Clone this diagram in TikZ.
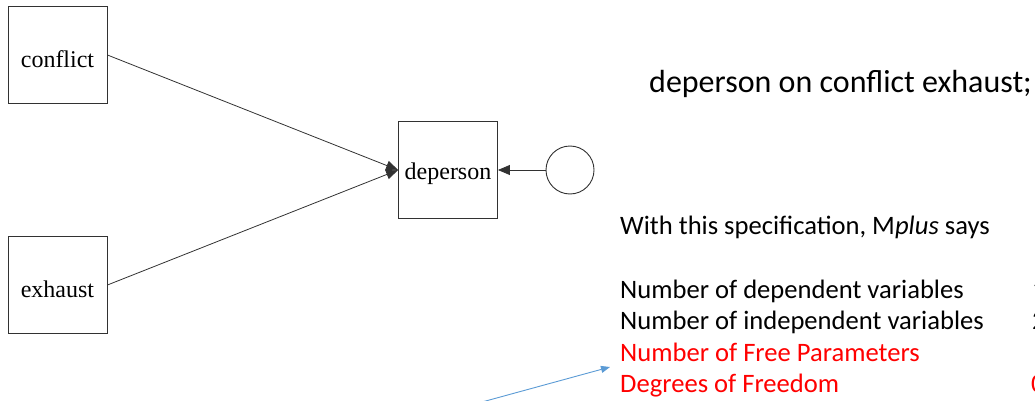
\documentclass[tikz,border=0pt]{standalone}
\usepackage{fontspec}
\setmainfont{Liberation Serif}
\newfontfamily\calib{Carlito}
\usetikzlibrary{arrows.meta}
\definecolor{linegray}{RGB}{50,50,50}
\definecolor{ptrblue}{RGB}{91,155,213}
\begin{document}
\begin{tikzpicture}[x=1pt,y=-1pt,
  varbox/.style={draw=linegray,line width=0.9pt,minimum width=99pt,minimum height=97pt,inner sep=0pt,font=\fontsize{24}{26}\selectfont},
  boxlabel/.style={inner sep=0pt,font=\fontsize{24}{26}\selectfont},
  errcirc/.style={draw=linegray,line width=0.9pt,circle,minimum size=48pt,inner sep=0pt},
  path/.style={draw=linegray,line width=0.8pt,-{Triangle[length=12pt,width=10pt]}},
  calline/.style={anchor=base west,inner sep=0pt,font=\calib\fontsize{26.6}{28}\selectfont},
  redline/.style={calline,text=red},
  pointer/.style={draw=ptrblue,line width=0.9pt,-{Triangle[length=9pt,width=7pt]}}
]
\useasboundingbox (0,0) rectangle (1035,401);
\node[varbox] (conflict) at (57.5,55) {};
\node[varbox] (exhaust) at (57.5,285) {};
\node[varbox] (deperson) at (448,170) {};
\node[boxlabel] (conflictlbl) at (57.5,59) {conflict};
\node[boxlabel] (exhaustlbl) at (57.5,289) {exhaust};
\node[boxlabel] (depersonlbl) at (448,174) {deperson};
\node[errcirc] (err) at (570,170) {};
\draw[path] (conflict.east) -- (deperson.west);
\draw[path] (exhaust.east) -- (deperson.west);
\draw[path] (err.west) -- (deperson.east);

\node[anchor=base west,inner sep=0pt,font=\calib\fontsize{32}{34}\selectfont] (cmd) at (649,93) {deperson on conflict exhaust;};
\node[calline] (spec) at (620,234) {With this specification, M\textit{plus} says};
\node[calline] (l1) at (620,298) {Number of dependent variables};
\node[calline] (l2) at (620,329.5) {Number of independent variables};
\node[redline] (l3) at (620,361) {Number of Free Parameters};
\node[redline] (l4) at (620,392.5) {Degrees of Freedom};
\node[calline] (n1) at (1032,298) {1};
\node[calline] (n2) at (1032,329.5) {2};
\node[redline] (n4) at (1031,392.5) {0};

\coordinate (ptrstart) at (482,402);
\coordinate (ptrend) at (610,367);
\draw[pointer] (ptrstart) -- (ptrend);
\end{tikzpicture}
\end{document}
